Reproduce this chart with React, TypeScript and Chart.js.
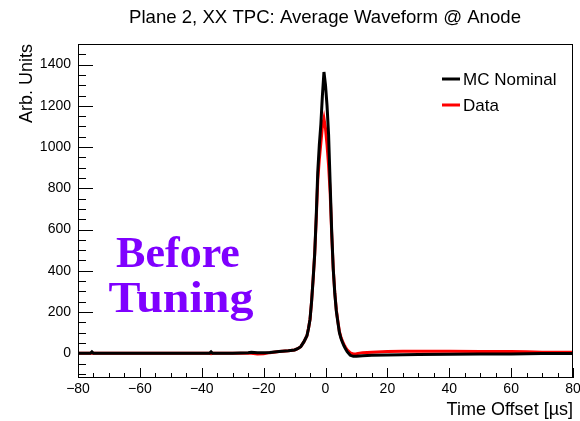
import React, { useEffect, useRef } from 'react';
import { Chart, registerables } from 'chart.js';

Chart.register(...registerables);

// ---- data ----
const timeOffsets = [
  -80, -76, -75.5, -75, -70, -60, -50, -40, -37.5, -37, -36.5, -30, -25, -24, -22, -20, -18,
  -15, -12, -10, -9, -8, -7, -6, -5.5, -5, -4.5, -4, -3.5, -3, -2.5, -2, -1.5, -1, -0.5,
  0, 0.5, 1, 1.5, 2, 2.5, 3, 3.5, 4, 4.5, 5, 5.5, 6, 6.5, 7, 8, 9, 10, 12, 15, 20, 25, 30,
  40, 50, 60, 65, 70, 80,
];

const mcNominal = [
  0, 0, 7, 0, 0, 0, 0, 0, 0, 7, 0, 0, 3, 5, 2, 3, 4,
  8, 12, 16, 22, 32, 55, 85, 120, 165, 250, 360, 480, 662, 880, 1010, 1110, 1250, 1364,
  1300, 1200, 1060, 824, 590, 410, 290, 205, 150, 100, 72, 52, 35, 20, 8, -10, -15, -15, -12, -10, -8, -7, -6,
  -5, -4, -3, -2, -1, -1,
];

const dataValues = [
  0, 0, 0, 0, 0, 0, 0, 0, 0, -2, 0, 0, 0, 0, -3, -2, 3,
  8, 12, 16, 22, 32, 55, 85, 120, 165, 250, 360, 480, 650, 840, 940, 1020, 1100, 1138,
  1090, 1010, 910, 780, 580, 410, 295, 210, 155, 105, 78, 58, 42, 28, 17, 2, -3, -2, 3, 5, 8, 10, 10,
  10, 9, 8, 7, 5, 5,
];

const xTickValues = [-80, -60, -40, -20, 0, 20, 40, 60, 80];
const yTickValues = [0, 200, 400, 600, 800, 1000, 1200, 1400];

const seriesLabels = ['MC Nominal', 'Data'];
const seriesColors = ['#000000', '#ff0000'];
const titleText = 'Plane 2, XX TPC: Average Waveform @ Anode';
const xTitle = 'Time Offset [\u00b5s]';
const yTitle = 'Arb. Units';
const noteLines = ['Before', 'Tuning'];

const X_MIN = -80;
const X_MAX = 80;
const Y_MIN = -120;
const Y_MAX = 1500;
const X_MINOR_STEP = 5;
const Y_MINOR_STEP = 50;

const SANS = '"Liberation Sans", Arial, Helvetica, sans-serif';

const rootPlugin = {
  id: 'rootStyle',
  afterDraw(chart: any) {
    const { ctx, chartArea } = chart;
    const xs = chart.scales.x;
    const ys = chart.scales.y;
    const { left, right, top, bottom } = chartArea;
    ctx.save();
    // frame
    ctx.strokeStyle = '#000';
    ctx.lineWidth = 1;
    ctx.strokeRect(left + 0.5, top + 0.5, right - left - 1, bottom - top - 1);

    // x ticks (inside)
    ctx.beginPath();
    for (let v = X_MIN; v <= X_MAX + 1e-9; v += X_MINOR_STEP) {
      const px = Math.round(xs.getPixelForValue(v)) + 0.5;
      const major = xTickValues.includes(v);
      const len = major ? 10 : 5;
      ctx.moveTo(px, bottom);
      ctx.lineTo(px, bottom - len);
    }
    // y ticks (inside)
    const yStart = Math.ceil(Y_MIN / Y_MINOR_STEP) * Y_MINOR_STEP;
    for (let v = yStart; v <= Y_MAX - 1e-9; v += Y_MINOR_STEP) {
      const py = Math.round(ys.getPixelForValue(v)) + 0.5;
      const major = yTickValues.includes(v);
      const len = major ? 15 : 8;
      ctx.moveTo(left, py);
      ctx.lineTo(left + len, py);
    }
    ctx.stroke();

    // title
    ctx.fillStyle = '#000';
    ctx.font = `18.6px ${SANS}`;
    ctx.textAlign = 'center';
    ctx.textBaseline = 'alphabetic';
    ctx.fillText(titleText, 325, 23);

    // legend
    const legY = [79, 105];
    ctx.font = `17px ${SANS}`;
    ctx.textAlign = 'left';
    ctx.textBaseline = 'middle';
    seriesLabels.forEach((lab, i) => {
      ctx.strokeStyle = seriesColors[i];
      ctx.lineWidth = 3;
      ctx.beginPath();
      ctx.moveTo(442, legY[i]);
      ctx.lineTo(460, legY[i]);
      ctx.stroke();
      ctx.fillStyle = '#000';
      ctx.fillText(lab, 463, legY[i] + 1);
    });

    // annotation
    ctx.fillStyle = '#7f00ff';
    ctx.textAlign = 'center';
    ctx.textBaseline = 'alphabetic';
    ctx.font = 'bold 44px "Liberation Serif", "Times New Roman", serif';
    ctx.fillText(noteLines[0], 178, 267);
    ctx.save();
    ctx.translate(181, 312);
    ctx.scale(1.09, 1);
    ctx.fillText(noteLines[1], 0, 0);
    ctx.restore();
    ctx.restore();
  },
};

function fmt(v: number) {
  return v < 0 ? '\u2212' + Math.abs(v) : String(v);
}

export default function App() {
  const ref = useRef<HTMLCanvasElement | null>(null);
  useEffect(() => {
    document.body.style.margin = '0';
    if (!ref.current) return;
    const chart = new Chart(ref.current, {
      type: 'line',
      data: {
        datasets: [
          {
            label: seriesLabels[0],
            data: timeOffsets.map((t, i) => ({ x: t, y: mcNominal[i] })),
            borderColor: seriesColors[0],
            borderWidth: 3,
            pointRadius: 0,
            tension: 0,
            fill: false,
          },
          {
            label: seriesLabels[1],
            data: timeOffsets.map((t, i) => ({ x: t, y: dataValues[i] })),
            borderColor: seriesColors[1],
            borderWidth: 3,
            pointRadius: 0,
            tension: 0,
            fill: false,
          },
        ],
      },
      options: {
        animation: false,
        responsive: false,
        devicePixelRatio: 1,
        layout: { padding: { top: 44, right: 7, left: 0, bottom: 0 } },
        plugins: {
          legend: { display: false },
          title: { display: false },
          tooltip: { enabled: false },
        },
        scales: {
          x: {
            type: 'linear',
            min: X_MIN,
            max: X_MAX,
            grid: { display: false, drawTicks: false },
            border: { display: false },
            afterBuildTicks: (s: any) => {
              s.ticks = xTickValues.map((v) => ({ value: v }));
            },
            afterFit: (s: any) => {
              s.height = 43;
              s.paddingLeft = 0;
              s.paddingRight = 0;
            },
            ticks: {
              color: '#000',
              font: { family: SANS, size: 14 },
              padding: 3,
              maxRotation: 0,
              autoSkip: false,
              callback: (v: any) => fmt(Number(v)),
            },
            title: {
              display: true,
              text: xTitle,
              align: 'end',
              color: '#000',
              font: { family: SANS, size: 18, lineHeight: 1 },
              padding: { top: 0, bottom: 2 },
            },
          },
          y: {
            type: 'linear',
            min: Y_MIN,
            max: Y_MAX,
            grid: { display: false, drawTicks: false },
            border: { display: false },
            afterBuildTicks: (s: any) => {
              s.ticks = yTickValues.map((v) => ({ value: v }));
            },
            afterFit: (s: any) => {
              s.width = 78;
              s.paddingTop = 0;
              s.paddingBottom = 0;
            },
            ticks: {
              color: '#000',
              font: { family: SANS, size: 14 },
              padding: 7,
              autoSkip: false,
              callback: (v: any) => fmt(Number(v)),
            },
            title: {
              display: true,
              text: yTitle,
              align: 'end',
              color: '#000',
              font: { family: SANS, size: 18, lineHeight: 1 },
              padding: { top: 18, bottom: 0 },
            },
          },
        },
      },
      plugins: [rootPlugin],
    } as any);
    return () => chart.destroy();
  }, []);
  return (
    <div style={{ width: 580, height: 421 }}>
      <canvas ref={ref} width={580} height={421} style={{ width: 580, height: 421, display: 'block' }} />
    </div>
  );
}
